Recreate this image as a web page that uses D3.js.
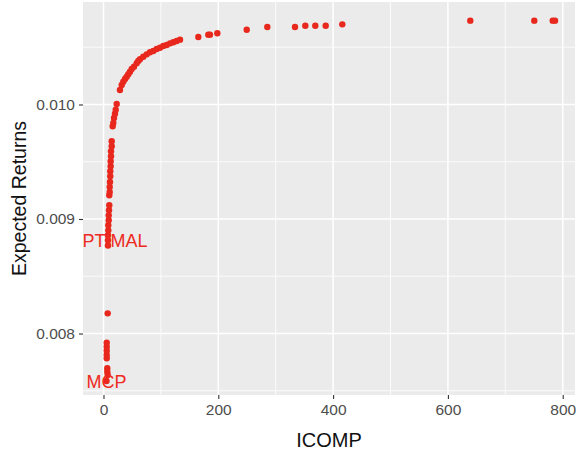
<!DOCTYPE html>
<html>
<head>
<meta charset="utf-8">
<script src="https://cdn.jsdelivr.net/npm/d3@7"></script>
<style>
  body { margin: 0; background: #fff; }
  svg { display: block; font-family: "Liberation Sans", Arial, sans-serif; }
</style>
</head>
<body>
<script>
// portfolio points
var icomp = [5.2, 7.3, 6.6, 6.6, 5.6, 5.6, 5.6, 5.6, 5.6, 7.3,
  7.8, 7.8, 7.8, 8.4, 8.4, 9.1, 9.1, 9.6, 10.1, 10.1, 10.8, 10.8, 11.3, 11.8, 11.8,
  12.5, 12.5, 13.1, 13.1, 14.3, 14.3, 16.0, 17.1, 18.3, 20.0, 21.3, 23.0,
  28.7, 31.7, 34.5, 37.5, 40.4, 43.2, 46.2, 49.1, 53.1, 57.8, 60.6, 63.6, 69.3,
  75.3, 81.0, 86.7, 92.7, 98.4, 104.2, 110.1, 115.9, 121.6, 127.5, 133.3,
  165.2, 182.6, 185.5, 198.3, 249.5, 285.4, 333.6, 351.6, 369.0, 387.1, 416.0,
  639.0, 750.5, 782.6, 786.6];
var expReturns = [0.007585, 0.007638, 0.007666, 0.007696, 0.007783, 0.007812, 0.007850, 0.007885, 0.007920, 0.008176,
  0.008769, 0.008814, 0.008858, 0.008901, 0.008945, 0.008989, 0.009032, 0.009076, 0.009120, 0.009207, 0.009236, 0.009279, 0.009323, 0.009373, 0.009417,
  0.009460, 0.009504, 0.009548, 0.009591, 0.009635, 0.009679, 0.009810, 0.009838, 0.009882, 0.009920, 0.009955, 0.010004,
  0.010127, 0.010170, 0.010199, 0.010223, 0.010243, 0.010264, 0.010286, 0.010310, 0.010330, 0.010360, 0.010380, 0.010395, 0.010417,
  0.010438, 0.010456, 0.010467, 0.010485, 0.010496, 0.010511, 0.010520, 0.010534, 0.010543, 0.010555, 0.010566,
  0.010590, 0.010610, 0.010610, 0.010622, 0.010653, 0.010677, 0.010677, 0.010688, 0.010688, 0.010688, 0.010700,
  0.010732, 0.010732, 0.010732, 0.010732];

var labelNames = ["OPTIMAL", "MCP"];
var labelX = [7.8, 5.2];
var labelY = [0.008814, 0.007585];

var xTicks = [0, 200, 400, 600, 800];
var xMinor = [100, 300, 500, 700];
var yTicks = [0.008, 0.009, 0.010];
var yMinor = [0.0075, 0.0085, 0.0095, 0.0105];

var width = 583,
    height = 458;

var panel = {left: 83, right: 575, top: 2, bottom: 395};

var x = d3.scaleLinear().domain([-35.7, 821.4]).range([panel.left, panel.right]);
var y = d3.scaleLinear().domain([0.007463, 0.010895]).range([panel.bottom, panel.top]);

var svg = d3.select("body").append("svg")
    .attr("width", width)
    .attr("height", height);

svg.append("defs").append("clipPath").attr("id", "panelClip")
  .append("rect")
    .attr("x", panel.left).attr("y", panel.top)
    .attr("width", panel.right - panel.left)
    .attr("height", panel.bottom - panel.top);

svg.append("rect")
    .attr("x", panel.left).attr("y", panel.top)
    .attr("width", panel.right - panel.left)
    .attr("height", panel.bottom - panel.top)
    .attr("fill", "#ebebeb");

var grid = svg.append("g");
grid.selectAll("line.xminor").data(xMinor).enter().append("line")
    .attr("x1", function(d){ return x(d); }).attr("x2", function(d){ return x(d); })
    .attr("y1", panel.top).attr("y2", panel.bottom)
    .attr("stroke", "#fff").attr("stroke-width", 0.8);
grid.selectAll("line.yminor").data(yMinor).enter().append("line")
    .attr("y1", function(d){ return y(d); }).attr("y2", function(d){ return y(d); })
    .attr("x1", panel.left).attr("x2", panel.right)
    .attr("stroke", "#fff").attr("stroke-width", 0.8);
grid.selectAll("line.xmajor").data(xTicks).enter().append("line")
    .attr("x1", function(d){ return x(d); }).attr("x2", function(d){ return x(d); })
    .attr("y1", panel.top).attr("y2", panel.bottom)
    .attr("stroke", "#fff").attr("stroke-width", 1.5);
grid.selectAll("line.ymajor").data(yTicks).enter().append("line")
    .attr("y1", function(d){ return y(d); }).attr("y2", function(d){ return y(d); })
    .attr("x1", panel.left).attr("x2", panel.right)
    .attr("stroke", "#fff").attr("stroke-width", 1.5);

// axes, ggplot style: no domain line, grey ticks
var xAxis = svg.append("g")
    .attr("transform", "translate(0," + panel.bottom + ")")
    .call(d3.axisBottom(x).tickValues(xTicks).tickSize(4).tickPadding(5).tickFormat(d3.format("d")));
var yAxis = svg.append("g")
    .attr("transform", "translate(" + panel.left + ",0)")
    .call(d3.axisLeft(y).tickValues(yTicks).tickSize(4).tickPadding(4).tickFormat(d3.format(".3f")));

[xAxis, yAxis].forEach(function(a){
  a.select(".domain").remove();
  a.selectAll(".tick line").attr("stroke", "#333").attr("stroke-width", 1.1);
  a.selectAll(".tick text").attr("fill", "#4d4d4d").style("font-size", "15.5px")
    .style("font-family", "'Liberation Sans', Arial, sans-serif");
});

var data = icomp.map(function(v, i){ return {x: v, y: expReturns[i]}; });

var pts = svg.append("g").attr("clip-path", "url(#panelClip)");
pts.selectAll("circle")
    .data(data)
  .enter().append("circle")
    .attr("cx", function(d){ return x(d.x); })
    .attr("cy", function(d){ return y(d.y); })
    .attr("r", 3.2)
    .attr("fill", "#e8271d");

var labels = labelNames.map(function(n, i){ return {name: n, x: labelX[i], y: labelY[i]}; });
pts.selectAll("text")
    .data(labels)
  .enter().append("text")
    .attr("x", function(d){ return x(d.x); })
    .attr("y", function(d){ return y(d.y); })
    .attr("dy", "0.36em")
    .attr("text-anchor", "middle")
    .attr("fill", "#ee2a22")
    .style("font-size", "18px")
    .text(function(d){ return d.name; });

svg.append("text")
    .attr("x", (panel.left + panel.right) / 2)
    .attr("y", 447)
    .attr("text-anchor", "middle")
    .attr("fill", "#111")
    .style("font-size", "20px")
    .text("ICOMP");

svg.append("text")
    .attr("transform", "translate(25.5," + ((panel.top + panel.bottom) / 2) + ") rotate(-90)")
    .attr("text-anchor", "middle")
    .attr("fill", "#111")
    .style("font-size", "19.5px")
    .text("Expected Returns");
</script>
</body>
</html>
